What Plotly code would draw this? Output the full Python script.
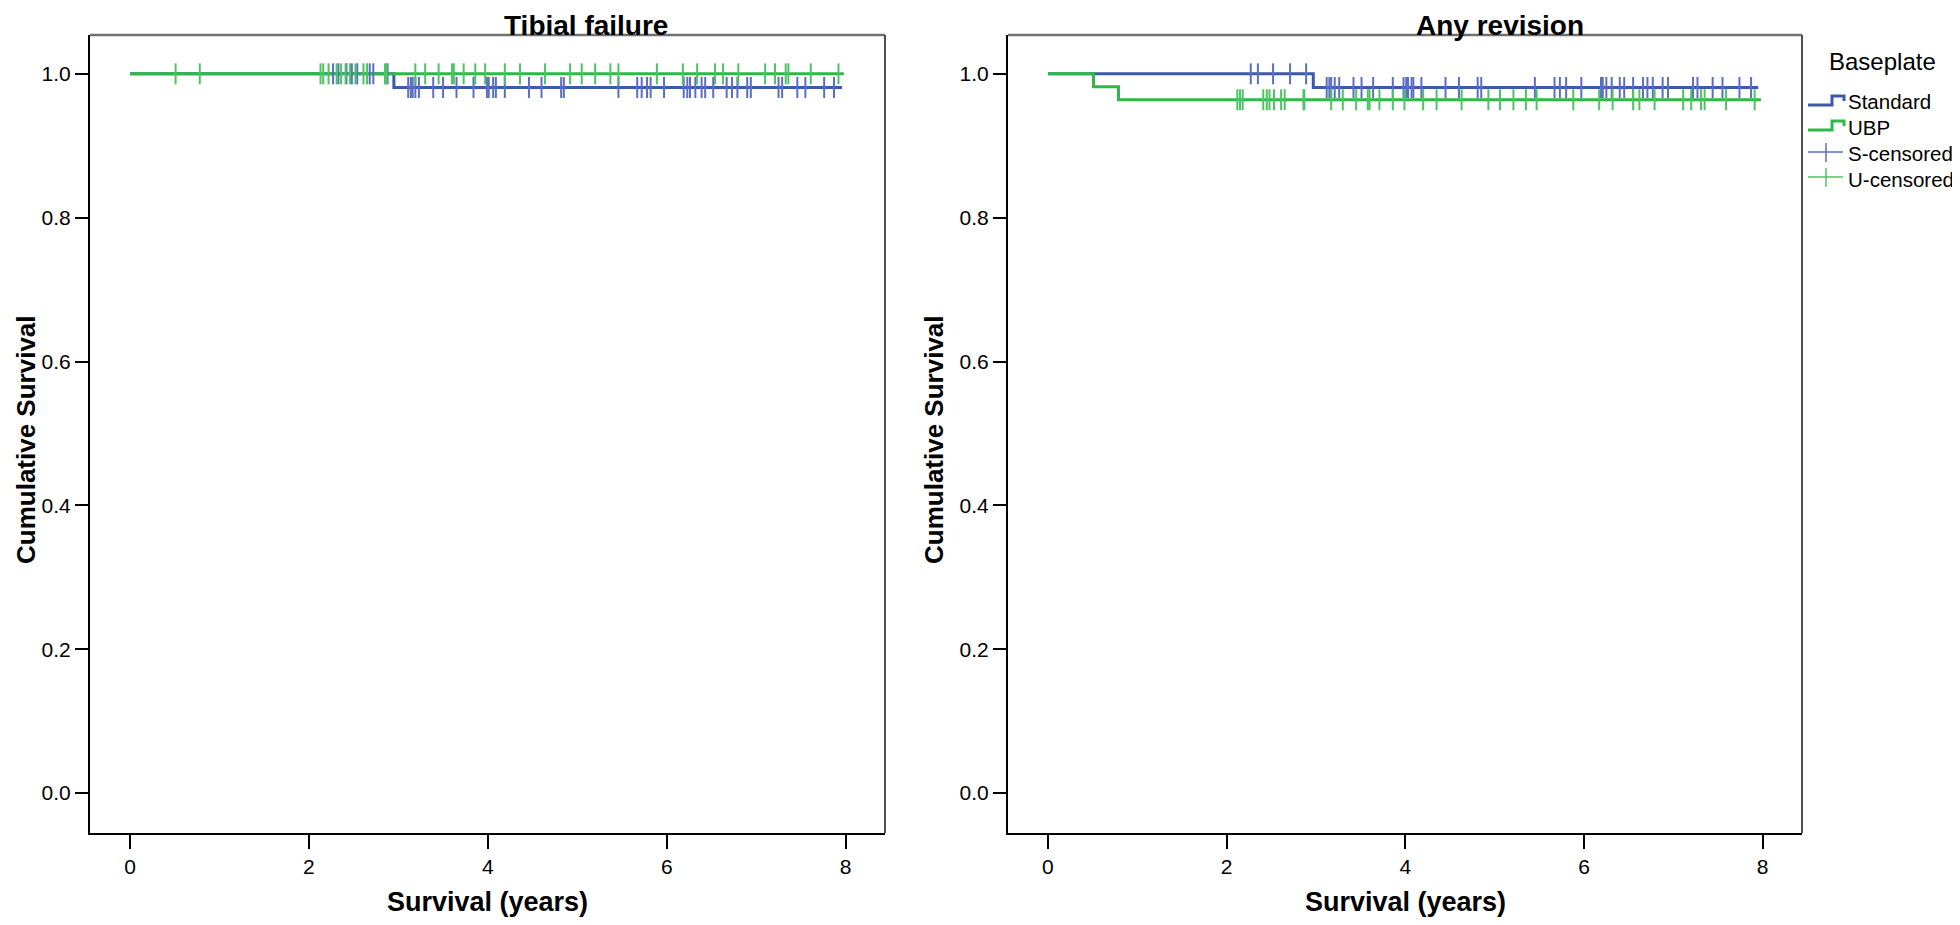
import numpy as np
import plotly.graph_objects as go

# ---------------- data ----------------
# Panel 1: Tibial failure
tib_std_times = [0.0, 2.95, 7.96]
tib_std_surv = [1.0, 0.981, 0.981]
tib_ubp_times = [0.0, 7.98]
tib_ubp_surv = [1.0, 1.0]
tib_std_cens = [2.27, 2.33, 2.42, 2.48, 2.54, 2.68, 2.72, 2.88,
                3.11, 3.14, 3.16, 3.19, 3.23, 3.39, 3.50, 3.65, 3.84, 3.99, 4.01, 4.06,
                4.09, 4.19, 4.46, 4.60, 4.82, 4.85, 5.46, 5.67, 5.72, 5.78, 5.82, 5.97,
                6.19, 6.23, 6.26, 6.32, 6.39, 6.43, 6.52, 6.67, 6.73, 6.79, 6.90, 6.94,
                7.25, 7.29, 7.46, 7.55, 7.76, 7.87]
tib_ubp_cens = [0.51, 0.78, 2.13, 2.16, 2.22, 2.31, 2.36, 2.41, 2.46, 2.52, 2.61, 2.65,
                2.85, 2.87, 3.19, 3.30, 3.45, 3.60, 3.62, 3.73, 3.86, 3.97, 4.19, 4.36,
                4.64, 4.92, 5.05, 5.20, 5.37, 5.46, 5.89, 6.18, 6.34, 6.54, 6.63, 6.80,
                7.10, 7.21, 7.33, 7.36, 7.61, 7.92]

# Panel 2: Any revision
rev_std_times = [0.0, 2.97, 7.95]
rev_std_surv = [1.0, 0.981, 0.981]
rev_ubp_times = [0.0, 0.51, 0.79, 7.98]
rev_ubp_surv = [1.0, 0.982, 0.964, 0.964]
rev_std_cens = [2.27, 2.35, 2.52, 2.71, 2.89,
                3.12, 3.15, 3.17, 3.21, 3.26, 3.42, 3.51, 3.64, 3.86, 3.98, 4.01, 4.03,
                4.07, 4.09, 4.18, 4.45, 4.60, 4.81, 4.85, 5.45, 5.67, 5.73, 5.80, 5.97,
                6.19, 6.21, 6.25, 6.31, 6.40, 6.45, 6.55, 6.66, 6.71, 6.77, 6.88, 6.94,
                7.22, 7.27, 7.44, 7.55, 7.74, 7.87]
rev_ubp_cens = [2.12, 2.15, 2.18, 2.41, 2.45, 2.48, 2.53, 2.61, 2.65, 2.86, 2.87, 3.17,
                3.30, 3.45, 3.58, 3.60, 3.71, 3.86, 3.99, 4.20, 4.35, 4.63, 4.93, 5.06,
                5.21, 5.35, 5.47, 5.88, 6.17, 6.32, 6.55, 6.62, 6.79, 7.11, 7.20, 7.31,
                7.35, 7.59, 7.91]

x_ticks = [0, 2, 4, 6, 8]
y_ticks = [0.0, 0.2, 0.4, 0.6, 0.8, 1.0]
panel_titles = ["Tibial failure", "Any revision"]
legend_title = "Baseplate"
group_names = ["Standard", "UBP", "S-censored", "U-censored"]

# ---------------- styling ----------------
BLUE = "#3E58AC"
GREEN = "#2EB848"
BLUE_C = "#5A6FC2"
GREEN_C = "#4CC463"
FONT = "Liberation Sans, Arial, sans-serif"

W, H = 1960, 925
OFF = 8  # page body margin


def px(x):
    return (x - OFF) / W


def py(y):
    return 1 - (y - OFF) / H


def step_at(t, times, surv):
    idx = np.searchsorted(np.asarray(times), t, side="right") - 1
    return [surv[i] for i in idx]


fig = go.Figure()

panels = [
    ("x", "y", tib_std_times, tib_std_surv, tib_ubp_times, tib_ubp_surv, tib_std_cens, tib_ubp_cens),
    ("x2", "y2", rev_std_times, rev_std_surv, rev_ubp_times, rev_ubp_surv, rev_std_cens, rev_ubp_cens),
]

for xa, ya, st, ss, ut, us, sc, uc in panels:
    fig.add_trace(go.Scatter(x=st, y=ss, mode="lines", line=dict(color=BLUE, width=3, shape="hv"),
                             xaxis=xa, yaxis=ya, showlegend=False, hoverinfo="skip"))
    fig.add_trace(go.Scatter(x=ut, y=us, mode="lines", line=dict(color=GREEN, width=3, shape="hv"),
                             xaxis=xa, yaxis=ya, showlegend=False, hoverinfo="skip"))
    fig.add_trace(go.Scatter(x=sc, y=step_at(sc, st, ss), mode="markers",
                             marker=dict(symbol="line-ns", size=15, line=dict(color=BLUE_C, width=2)),
                             xaxis=xa, yaxis=ya, showlegend=False, hoverinfo="skip"))
    fig.add_trace(go.Scatter(x=uc, y=step_at(uc, ut, us), mode="markers",
                             marker=dict(symbol="line-ns", size=15, line=dict(color=GREEN_C, width=2)),
                             xaxis=xa, yaxis=ya, showlegend=False, hoverinfo="skip"))

xd1 = [px(90), px(885)]
xd2 = [px(1008), px(1802)]
yd = [py(833), py(35)]

common_x = dict(range=[-0.447, 8.44], tickvals=x_ticks, ticks="outside", ticklen=14, tickwidth=2,
                tickcolor="black", showline=True, linecolor="black", linewidth=2, showgrid=False,
                zeroline=False, tickfont=dict(family=FONT, size=21, color="black"))
common_y = dict(range=[-0.0556, 1.054], tickvals=y_ticks, tickformat=".1f", ticks="outside",
                ticklen=13, tickwidth=2, tickcolor="black", showline=True, linecolor="black",
                linewidth=2, showgrid=False, zeroline=False,
                tickfont=dict(family=FONT, size=21, color="black"))

fig.update_layout(
    width=W, height=H, autosize=False,
    margin=dict(l=0, r=0, t=0, b=0),
    paper_bgcolor="white", plot_bgcolor="white",
    showlegend=False,
    xaxis=dict(domain=xd1, anchor="y", **common_x),
    yaxis=dict(domain=yd, anchor="x", **common_y),
    xaxis2=dict(domain=xd2, anchor="y2", **common_x),
    yaxis2=dict(domain=yd, anchor="x2", **common_y),
)

shapes = []
# top / right frame lines (grey)
for xr, yr in (("x domain", "y domain"), ("x2 domain", "y2 domain")):
    shapes.append(dict(type="line", xref=xr, yref=yr, x0=0, x1=1, y0=1, y1=1,
                       line=dict(color="#707070", width=2.5)))
    shapes.append(dict(type="line", xref=xr, yref=yr, x0=1, x1=1, y0=0, y1=1,
                       line=dict(color="#505050", width=2)))

# ---- legend (drawn as in the SPSS output) ----
ann = []
ann.append(dict(text=legend_title, x=px(1882), y=py(62), xref="paper", yref="paper",
                showarrow=False, xanchor="center", yanchor="middle",
                font=dict(family=FONT, size=24, color="black")))
row_y = [102, 127, 154, 179]
step_cols = [BLUE, GREEN]
for i, col in enumerate(step_cols):
    yc = row_y[i]
    lo, hi = yc + 3, yc - 6
    path = (f"M {px(1808)},{py(lo)} L {px(1832)},{py(lo)} L {px(1832)},{py(hi)} "
            f"L {px(1844)},{py(hi)} L {px(1844)},{py(hi + 5)}")
    shapes.append(dict(type="path", xref="paper", yref="paper", path=path,
                       line=dict(color=col, width=3)))
cens_cols = [BLUE_C, GREEN_C]
for i, col in enumerate(cens_cols):
    yc = row_y[2 + i] - 2
    shapes.append(dict(type="line", xref="paper", yref="paper", x0=px(1808), x1=px(1843),
                       y0=py(yc), y1=py(yc), line=dict(color=col, width=1.5)))
    shapes.append(dict(type="line", xref="paper", yref="paper", x0=px(1826), x1=px(1826),
                       y0=py(yc - 9), y1=py(yc + 10), line=dict(color=col, width=1.5)))
for name, yc in zip(group_names, row_y):
    ann.append(dict(text=name, x=px(1846), y=py(yc), xref="paper", yref="paper",
                    showarrow=False, xanchor="left", yanchor="middle",
                    font=dict(family=FONT, size=20.5, color="black")))

# titles and axis labels
for title, cx, ycx, pc in ((panel_titles[0], 586, 26, (90 + 885) / 2),
                           (panel_titles[1], 1500, 934, (1008 + 1802) / 2)):
    ann.append(dict(text=f"<b>{title}</b>", x=px(cx), y=py(25), xref="paper", yref="paper",
                    showarrow=False, xanchor="center", yanchor="middle",
                    font=dict(family=FONT, size=28, color="black")))
    ann.append(dict(text="<b>Cumulative Survival</b>", x=px(ycx), y=py(440), xref="paper",
                    yref="paper", showarrow=False, textangle=-90, xanchor="center",
                    yanchor="middle", borderpad=0,
                    font=dict(family=FONT, size=26, color="black")))
    ann.append(dict(text="<b>Survival (years)</b>", x=px(pc), y=py(902), xref="paper",
                    yref="paper", showarrow=False, xanchor="center", yanchor="middle",
                    font=dict(family=FONT, size=27, color="black")))

fig.update_layout(shapes=shapes, annotations=ann)

fig.write_html("out.html")
